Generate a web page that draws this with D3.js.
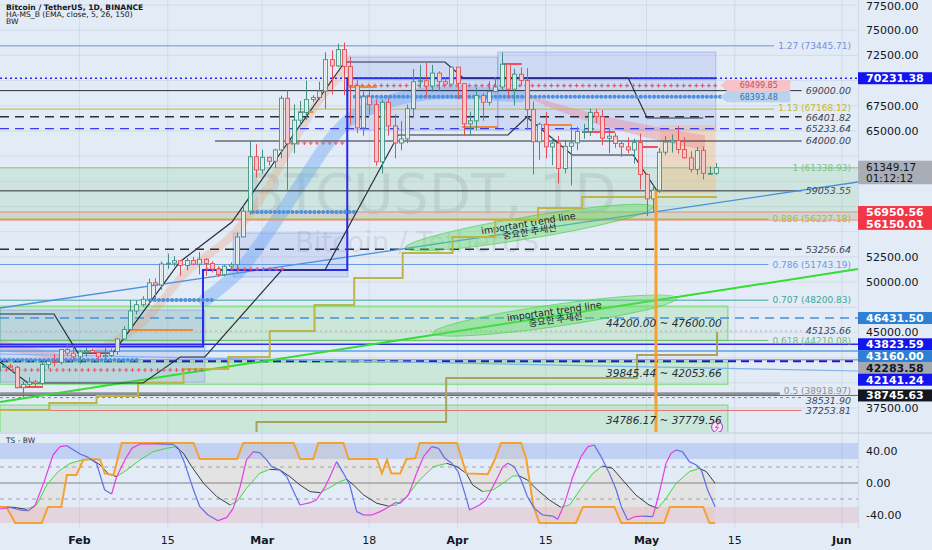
<!DOCTYPE html>
<html>
<head>
<meta charset="utf-8">
<script src="https://cdn.jsdelivr.net/npm/d3@7"></script>
<style>
  body { margin: 0; background: #e2ebf6; }
  svg { display: block; font-family: "DejaVu Sans", sans-serif; }
</style>
</head>
<body>
<svg id="chart" width="932" height="550"></svg>
<script>
// ---------- values ----------
// daily candles: [mm-dd, open, high, low, close]
const candleRows = [
  ['01-19',41278,42134,40297,41618],['01-20',41618,41872,41500,41665],['01-21',41665,41891,41536,41545],
  ['01-22',41545,41689,39431,39507],['01-23',39507,40129,38555,39845],['01-24',39845,40555,39484,40077],
  ['01-25',40077,40289,39550,39933],['01-26',39933,42225,39760,41816],['01-27',41816,42200,41394,42120],
  ['01-28',42120,42842,41620,42031],['01-29',42031,43305,41804,43302],['01-30',43302,43882,42683,42941],
  ['01-31',42941,43745,42276,42580],['02-01',42580,43285,41884,43082],['02-02',43082,43488,42574,43200],
  ['02-03',43200,43380,42880,43011],['02-04',43011,43119,42222,42583],['02-05',42583,43494,42258,42708],
  ['02-06',42708,43399,42574,43098],['02-07',43098,44396,42788,44349],['02-08',44349,45614,44331,45288],
  ['02-09',45288,48200,45242,47132],['02-10',47132,48170,46800,47751],['02-11',47751,48592,47557,48299],
  ['02-12',48299,50334,47710,49917],['02-13',49917,50368,48300,49699],['02-14',49699,52043,49225,51795],
  ['02-15',51795,52816,51314,51880],['02-16',51880,52572,51566,52124],['02-17',52124,52191,50625,51642],
  ['02-18',51642,52377,51163,52137],['02-19',52137,52488,51677,51774],['02-20',51774,52985,50760,52258],
  ['02-21',52258,52371,50625,51849],['02-22',51849,52065,50940,51288],['02-23',51288,51548,50525,50744],
  ['02-24',50744,51698,50585,51568],['02-25',51568,51950,51281,51728],['02-26',51728,54910,50901,54477],
  ['02-27',54477,57588,54451,57037],['02-28',57037,64000,56690,62432],['02-29',62432,63676,60364,61131],
  ['03-01',61131,63115,60777,62387],['03-02',62387,62433,61561,61988],['03-03',61988,63231,61320,63113],
  ['03-04',63113,68499,62300,68245],['03-05',68245,69000,59005,63724],['03-06',63724,67641,62779,66074],
  ['03-07',66074,67980,65551,66823],['03-08',66823,69990,66082,68124],['03-09',68124,68541,67861,68313],
  ['03-10',68313,69887,68094,68955],['03-11',68955,72800,67194,72078],['03-12',72078,73000,68620,71452],
  ['03-13',71452,73650,71334,73072],['03-14',73072,73777,68555,71388],['03-15',71388,72357,65630,69499],
  ['03-16',69499,70043,64780,65300],['03-17',65300,68904,64533,68393],['03-18',68393,68956,66565,67609],
  ['03-19',67609,68124,61555,61937],['03-20',61937,68100,60775,67840],['03-21',67840,68240,64529,65501],
  ['03-22',65501,66649,62260,63796],['03-23',63796,65973,63074,64209],['03-24',64209,67624,63790,67211],
  ['03-25',67211,71150,66385,69880],['03-26',69880,71561,69280,69988],['03-27',69988,71769,68359,69455],
  ['03-28',69455,71552,68903,70744],['03-29',70744,70916,69009,69892],['03-30',69892,70355,69601,69645],
  ['03-31',69645,71377,69624,71333],['04-01',71333,71342,68110,69702],['04-02',69702,69708,64533,65709],
  ['04-03',65709,66914,64493,66000],['04-04',66000,69291,65064,68508],['04-05',68508,68725,66011,67837],
  ['04-06',67837,69918,67518,68896],['04-07',68896,70327,68824,69360],['04-08',69360,72797,69043,71620],
  ['04-09',71620,71758,68210,69146],['04-10',69146,71172,67518,70631],['04-11',70631,71293,69557,70006],
  ['04-12',70006,71227,65086,67116],['04-13',67116,67932,60660,63924],['04-14',63924,65840,62134,65661],
  ['04-15',65661,66867,62274,63419],['04-16',63419,64365,61600,63793],['04-17',63793,64499,59768,61277],
  ['04-18',61277,64117,60803,63470],['04-19',63470,65450,59600,63818],['04-20',63818,65419,63090,64941],
  ['04-21',64941,65695,64223,64941],['04-22',64941,67233,64500,66837],['04-23',66837,67199,65775,66407],
  ['04-24',66407,67075,63589,64276],['04-25',64276,65275,62783,64481],['04-26',64481,64789,63322,63755],
  ['04-27',63755,63923,62424,63419],['04-28',63419,64360,62793,63114],['04-29',63114,64228,61765,63842],
  ['04-30',63842,64734,59191,60673],['05-01',60673,60780,56553,58254],['05-02',58254,59603,56937,59123],
  ['05-03',59123,63320,58848,62889],['05-04',62889,64494,62599,63891],['05-05',63891,64650,62848,64031],
  ['05-06',64031,65494,62746,63161],['05-07',63161,64390,62250,62334],['05-08',62334,62986,60877,61187],
  ['05-09',61187,63404,60648,63049],['05-10',63049,63469,60187,60792],['05-11',60792,61490,60632,60793],
  ['05-12',60793,61818,60632,61349]
];

const headerLines = ['Bitcoin / TetherUS, 1D, BINANCE', 'HA-MS_B (EMA, close, 5, 26, 150)', 'BW'];
const watermark = ['BTCUSDT, 1D', 'Bitcoin / TetherUS'];
const priceTicks = [77500, 75000, 72500, 70000, 67500, 65000, 62500, 60000, 57500, 55000, 52500, 50000, 47500, 45000, 42500, 40000, 37500];
const timeTickDates = ['02-01', '02-15', '03-01', '03-18', '04-01', '04-15', '05-01', '05-15', '06-01'];
const timeTickLabels = ['Feb', '15', 'Mar', '18', 'Apr', '15', 'May', '15', 'Jun'];
const indTicks = [40, 0, -40];

// fibonacci retracement
const fibRatios = ['1.27', '1.13', '1', '0.886', '0.786', '0.707', '0.618', '0.5'];
const fibPrices = [73445.71, 67168.12, 61338.93, 56227.18, 51743.19, 48200.83, 44210.08, 38918.97];

// horizontal levels with italic labels (price, first day)
const levelPrices = [69000.00, 66401.82, 65233.64, 64000.00, 59053.55, 53256.64, 45135.66, 38531.90, 37253.81];
const levelFrom = [-12.62, -12.62, -12.62, 21.5, -12.62, -12.62, -12.62, -12.62, -12.62];

// price-axis tags
const tagPrices = [70231.38, 56950.56, 56150.01, 46431.50, 43823.59, 43160.00, 42283.58, 42141.24, 38745.63];
const lastPrice = 61349.17, countdown = '01:12:12';

// support zones
const zoneLows = [44200.00, 39845.44, 34786.17];
const zoneHighs = [47600.00, 42053.66, 37779.56];
const zoneEnd = 102.9;

// boxes [day0, day1, top, bottom] (days from 2024-02-01)
const blueBoxes = [[-12.62, 19.9, 47225, 40079], [24.4, 42.6, 54870, 50500], [42.6, 66.4, 72339, 65093], [66.4, 101.0, 72835, 65093]];
const orangeBox = [92.1, 101.0, 65589, 58839];

// trend lines and drawings [day, price]
const trendGreen = [[-12.62, 38094], [123.57, 51296]];
const trendBlue = [[-12.62, 47424], [123.57, 59931]];
const trendLight = [[-12.62, 42858], [123.57, 41171]];
const ellipseA = [[51.7, 53380], [91.0, 57449]];
const ellipseB = [[56.1, 44943], [94.8, 48417]];
const trendNote = ['important trend line', '중요한 추세선'];

// indicator lines on price pane
const blackA = [[-12.62,46828],[-4.05,46828],[-0.25,42956],[5.3,42956],[15.9,51991],[24.2,55962],[42.1,71842],[58.0,71842],[60.9,70254],[87.1,70254],[90.1,66284],[99.0,66284]];
const blackB = [[-12.62,42064],[-8.2,39980],[10.1,39980],[16.0,42560],[19.9,42560],[32.1,51197],[38.97,51197],[50.6,64596],[68.0,64596],[71.0,66383],[78.2,62611],[87.9,62611],[91.8,58938]];
const blueStep = [[-12.62,43600],[19.6,51200],[42.5,70231.38],[101.0,70231.38]];
const oliveUpper = [[-12.62,37300],[-4.8,38000],[2.7,38690],[9.3,39980],[16.5,41369],[23.6,42560],[30.2,45141],[37.3,47722],[43.6,50401],[51.3,52884],[59.2,54473],[66.0,56160],[72.8,57350],[79.8,58442],[101.2,58442]];
const oliveLower = [[27.9,35000],[28.1,36108],[58.2,40476],[88.5,42758],[101.2,45042]];
const blueRibbon = [[19.9,48218],[25.5,51197],[30.2,55167],[35.5,60130],[39.8,64100],[43.4,66383],[48.8,67872],[56.1,68765],[62.5,68765],[69.9,68468]];
const pinkRibbon = [[71.0,68468,100],[76.3,67277,350],[82.6,66085,500],[90.6,64894,650],[99.3,63802,750]];
const leftPinkRibbon = [[-12.62,43751,500],[-7.1,43056,400],[-1.5,42460,250],[1.7,42262,60]];
const orangeRibbon = [[3,43200],[10,46000],[17,51000],[24,54500],[29,58500],[34,64000],[38,68000],[42,71000]];
// pivot markers [price, day0, day1]
const plusLines = [[69499.85,42.9,101.7],[41270,-12.6,19.9],[51300,20.2,32.3],[63800,33.7,42.5]];
const circleLines = [[68393.48,43.7,101.7],[48218,11.2,21.2],[42262,-12.6,9.6],[56950,27.5,44.0]];
const pivotTagPrices = [69499.85, 68393.48];
const redSegs = [[67.1,70.2,71643],[79.9,85.0,64894],[89.3,91.8,63405],[-10.2,-5.8,39584]];
const orangeSegs = [[42.6,47.2,69361],[34.7,37.1,66879],[60.7,66.4,65390],[73.6,78.2,65589],[8.3,18.0,45241]];
const orangeVertical = [91.5, 59100];
const flagIcon = [101.2, 35612];

// TS - BW oscillator [day, value]
const fastPts = [[-12.6,-32.5],[-11.0,-30.4],[-9.4,-33.8],[-8.1,-34.6],[-7.1,-28.8],[-5.7,-0.4],[-4.2,35],[-3.1,45.4],[-2.0,46.7],[0.1,36.3],[1.4,32],[2.7,24.6],[4.0,-8.8],[5.1,-13.8],[5.9,7.9],[7.2,28.8],[8.3,43.3],[9.6,48.8],[12.3,48.8],[14.9,48.3],[15.7,43.3],[16.7,24.6],[18.1,-8.8],[19.1,-29.6],[20.4,-40],[22.0,-47.1],[23.4,-42.9],[24.4,-31.7],[25.5,-4.6],[26.5,28.8],[27.6,39.2],[28.6,37.9],[29.7,28.8],[30.5,20.4],[31.8,16.3],[32.9,7.9],[34.0,-10.8],[35.0,-27.5],[36.6,-24.6],[37.6,-21.3],[39.0,-4.6],[40.0,12.1],[40.8,26.7],[41.9,12.1],[42.9,-2.5],[44.0,-35.8],[45.1,-40],[46.4,-40],[47.7,-35.8],[49.0,-30.4],[50.1,-24.6],[50.9,-25.4],[52.2,-15],[53.5,12.1],[54.6,32.9],[55.9,45.4],[57.0,43.3],[58.0,30.8],[59.1,24.6],[60.1,14.2],[61.4,-19.2],[61.9,-33.8],[63.5,-27.5],[64.5,-21.3],[65.9,-0.4],[67.2,20.4],[68.0,24.6],[69.0,20.4],[70.1,3.8],[71.1,-17.1],[72.2,-31.7],[73.5,-40],[75.1,-41.3],[75.9,-45.4],[77.0,-25.4],[78.3,7.9],[79.6,32.9],[80.7,45.4],[81.7,47.5],[82.8,32.9],[84.1,12.1],[85.2,-8.8],[86.0,-29.6],[87.0,-46.3],[88.1,-42.1],[89.4,-41.3],[91.0,-42.1],[92.0,-12.9],[93.1,24.6],[93.9,37.1],[94.7,41.3],[95.7,39.2],[96.8,26.7],[97.9,22.5],[98.7,16.3],[99.7,-8.8],[100.9,-29.6]];
const slowPts = [[-12.6,-29.6],[-10.5,-30.4],[-8.4,-32.9],[-6.8,-27.5],[-5.2,-2.5],[-3.4,14.2],[-1.5,24.6],[0.4,28.8],[1.9,29.6],[3.3,22.5],[4.6,11.3],[5.9,7.9],[7.5,16.3],[9.6,28.8],[11.7,39.2],[13.8,43.3],[15.2,45.4],[16.5,37.1],[17.8,20.4],[19.7,-0.4],[21.8,-17.1],[23.9,-27.5],[25.0,-23.3],[26.5,-6.7],[28.6,12.1],[30.2,17.1],[31.8,16.3],[33.4,7.9],[35.0,-2.5],[36.6,-10.8],[38.2,-12.1],[39.8,-5.4],[41.3,1.7],[42.4,4.6],[43.5,-2.5],[45.1,-15],[47.2,-25.4],[49.0,-28.8],[50.3,-27.5],[51.9,-17.1],[54.0,3.8],[56.2,20.4],[58.3,24.6],[59.9,20.4],[61.4,12.1],[62.4,-2.5],[64.0,-10.8],[65.6,-8.8],[67.2,-0.4],[68.8,8.8],[69.8,8.8],[71.1,3.8],[72.7,-8.8],[74.6,-21.3],[76.4,-30.4],[77.8,-27.5],[79.6,-6.7],[81.5,12.1],[83.0,21.3],[84.6,18.3],[86.2,3.8],[88.3,-15],[90.4,-27.5],[91.8,-31.7],[93.1,-19.2],[94.7,-0.4],[96.8,14.2],[98.4,18.3],[99.5,14.2],[100.9,-0.4]];
const trendPts = [[-12.6,-30],[-11.6,-30],[-10.2,-50],[-6.0,-50],[-5.0,-30],[-2.9,-30],[-2.0,10],[-0.5,10],[0.6,29],[2.5,30],[3.3,29],[4.0,12],[5.4,10],[6.7,50],[18.1,50],[19.1,30],[25.0,30],[26.0,50],[34.0,50],[35.0,30],[37.1,30],[37.9,50],[41.9,50],[42.7,30],[47.2,30],[48.0,12],[48.8,29],[49.5,12],[50.9,12],[51.9,30],[53.3,31],[54.0,50],[59.9,50],[61.4,12],[64.8,11],[65.9,29],[66.9,50],[70.1,50],[70.9,31],[72.0,-27.5],[73.0,-50],[78.8,-50],[79.9,-30],[84.9,-30],[86.0,-50],[92.8,-50],[93.7,-30],[99.0,-30],[100.0,-50],[100.9,-50]];

// ---------- layout & styles ----------
const W = 932, H = 550, paneR = 858, mainB = 432, indT = 434, indB = 528;
const bg = '#e2ebf6';
const fibColors = ['#6f8fe0', '#c2b93a', '#7cc47c', '#a8bf2e', '#6a9ae6', '#3fa69a', '#6fbf6f', '#8e9196'];
const fibNudge = [0, -1.2, 0, 0, 0, 0, 0, -2.6];
const levelColors = ['#2a2e39', '#2a2e39', '#3a3af0', '#2a2e39', '#2a2e39', '#2a2e39', '#e79a9a', '#7d8088', '#e77373'];
const levelDash = ['', '9,6', '9,6', '', '', '9,6', '2,3', '3,3', ''];
const levelNudge = [0, 1.2, 0, 0, 0, 0, 0, 2.6, 0];
const tagStyle = [
  {bg: '#1414ee', fg: '#fff', line: '#2323f0', dash: '2,3', w: 1.5},
  {bg: '#f23645', fg: '#fff', line: '#d9a99e', dash: '', w: 1.5},
  {bg: '#f23645', fg: '#fff', line: '#ee8a8a', dash: '', w: 1},
  {bg: '#2f80d4', fg: '#fff', line: '#4a90d9', dash: '9,6', w: 1.3},
  {bg: '#1414ee', fg: '#fff', line: '#2b2bf0', dash: '', w: 1.5},
  {bg: '#2f80d4', fg: '#fff', line: '#5aa0e6', dash: '', w: 1.5},
  {bg: '#a4a8b0', fg: '#131722', line: '#a0a4ab', dash: '', w: 1.5},
  {bg: '#1414ee', fg: '#fff', line: '#1a1acc', dash: '8,5', w: 1.8},
  {bg: '#131722', fg: '#fff', line: '#4a4d57', dash: '', w: 0.8}
];

const dayOf = s => (Date.UTC(2024, +s.slice(0, 2) - 1, +s.slice(3)) - Date.UTC(2024, 1, 1)) / 864e5;
const x = d3.scaleLinear().domain([-12.62, 123.57]).range([0, paneR]);
const y = d3.scaleLinear().domain([77996, 35118]).range([0, mainB]);
const yi = d3.scaleLinear().domain([62.5, -56.25]).range([433, indB]);
const X0 = x.domain()[0];

const svg = d3.select('#chart');
const defs = svg.append('defs');
defs.append('clipPath').attr('id', 'cm').append('rect').attr('width', paneR).attr('height', mainB);
defs.append('clipPath').attr('id', 'ci').append('rect').attr('y', indT).attr('width', paneR).attr('height', indB - indT);

svg.append('rect').attr('width', W).attr('height', H).attr('fill', bg);

// grid
const grid = svg.append('g').attr('stroke', 'rgba(100,120,150,0.12)');
grid.selectAll('line.v').data(timeTickDates).join('line').attr('class', 'v')
  .attr('x1', d => x(dayOf(d))).attr('x2', d => x(dayOf(d))).attr('y1', 0).attr('y2', indB);
grid.selectAll('line.h').data(priceTicks).join('line').attr('class', 'h')
  .attr('x1', 0).attr('x2', paneR).attr('y1', d => y(d)).attr('y2', d => y(d));

const main = svg.append('g').attr('clip-path', 'url(#cm)');
const gFill = main.append('g'), gWm = main.append('g'), gRib = main.append('g'), gHL = main.append('g'),
      gTr = main.append('g'), gEl = main.append('g'), gSt = main.append('g'), gPv = main.append('g'),
      gCd = main.append('g'), gTop = main.append('g'), gLb = main.append('g');

// fib band fill and the red band
gFill.append('rect').attr('x', 0).attr('width', paneR)
  .attr('y', y(fibPrices[2])).attr('height', y(fibPrices[3]) - y(fibPrices[2]))
  .attr('fill', 'rgba(105,200,110,0.17)');
gFill.append('rect').attr('x', 0).attr('width', paneR)
  .attr('y', y(tagPrices[1])).attr('height', y(tagPrices[2]) - y(tagPrices[1]))
  .attr('fill', 'rgba(235,140,140,0.2)');

// zones
gFill.selectAll('rect.zone').data(zoneLows).join('rect').attr('class', 'zone')
  .attr('x', x(X0)).attr('width', x(zoneEnd) - x(X0))
  .attr('y', (d, i) => y(zoneHighs[i])).attr('height', (d, i) => y(d) - y(zoneHighs[i]))
  .attr('fill', 'rgba(110,215,110,0.2)').attr('stroke', '#8ee08e').attr('stroke-width', 1.5);

gFill.selectAll('rect.box').data(blueBoxes).join('rect').attr('class', 'box')
  .attr('x', d => x(d[0])).attr('width', d => x(d[1]) - x(d[0]))
  .attr('y', d => y(d[2])).attr('height', d => y(d[3]) - y(d[2]))
  .attr('fill', 'rgba(95,115,235,0.15)').attr('stroke', 'rgba(95,115,235,0.35)');
gFill.append('rect')
  .attr('x', x(orangeBox[0])).attr('width', x(orangeBox[1]) - x(orangeBox[0]))
  .attr('y', y(orangeBox[2])).attr('height', y(orangeBox[3]) - y(orangeBox[2]))
  .attr('fill', 'rgba(255,175,90,0.32)');

// watermark
gWm.append('text').attr('x', 432).attr('y', 213).attr('text-anchor', 'middle')
  .attr('font-size', 55).attr('fill', 'rgba(110,120,140,0.16)').text(watermark[0]);
gWm.append('text').attr('x', 417).attr('y', 252).attr('text-anchor', 'middle')
  .attr('font-size', 27.5).attr('fill', 'rgba(110,120,140,0.16)').text(watermark[1]);

// ribbons
const lineDP = d3.line().x(d => x(d[0])).y(d => y(d[1])).curve(d3.curveCatmullRom);
const band = d3.area().x(d => x(d[0])).y0(d => y(d[1] - d[2])).y1(d => y(d[1] + d[2])).curve(d3.curveCatmullRom);
gRib.append('path').attr('d', lineDP(orangeRibbon)).attr('fill', 'none')
  .attr('stroke', 'rgba(240,150,110,0.28)').attr('stroke-width', 8).attr('stroke-linecap', 'round');
gRib.append('path').attr('d', lineDP(blueRibbon)).attr('fill', 'none')
  .attr('stroke', 'rgba(95,160,245,0.38)').attr('stroke-width', 13)
  .attr('stroke-linecap', 'round').attr('stroke-linejoin', 'round');
gRib.append('path').attr('d', band(pinkRibbon)).attr('fill', 'rgba(240,120,135,0.35)');
gRib.append('path').attr('d', band(leftPinkRibbon)).attr('fill', 'rgba(240,120,135,0.3)');

// fib lines + labels
fibPrices.forEach((p, i) => {
  const t = gLb.append('text').attr('x', 851).attr('y', y(p) + fibNudge[i]).attr('dy', '0.35em').attr('text-anchor', 'end')
    .attr('font-size', 9).attr('fill', fibColors[i]).text(`${fibRatios[i]} (${p.toFixed(2)})`);
  const w = t.node().getComputedTextLength();
  gHL.append('line').attr('x1', 0).attr('x2', i === 2 ? paneR : 851 - w - 4)
    .attr('y1', y(p)).attr('y2', y(p))
    .attr('stroke', fibColors[i]).attr('stroke-width', i === 7 ? 3 : (i === 3 ? 1.5 : 1));
});

// level lines + italic labels
levelPrices.forEach((p, i) => {
  const t = gLb.append('text').attr('x', 851).attr('y', y(p) + levelNudge[i]).attr('dy', '0.35em').attr('text-anchor', 'end')
    .attr('font-size', 9.5).attr('font-style', 'italic').attr('fill', '#434651').text(p.toFixed(2));
  const w = t.node().getComputedTextLength();
  gHL.append('line').attr('x1', x(levelFrom[i])).attr('x2', 851 - w - 4)
    .attr('y1', y(p)).attr('y2', y(p))
    .attr('stroke', levelColors[i]).attr('stroke-width', levelDash[i] === '9,6' ? 1.4 : 1)
    .attr('stroke-dasharray', levelDash[i] || null);
});

// tag price lines
tagPrices.forEach((p, i) => {
  gHL.append('line').attr('x1', 0).attr('x2', paneR).attr('y1', y(p)).attr('y2', y(p))
    .attr('stroke', tagStyle[i].line).attr('stroke-width', tagStyle[i].w)
    .attr('stroke-dasharray', tagStyle[i].dash || null);
});

// trend lines
const lin = d3.line().x(d => x(d[0])).y(d => y(d[1]));
gTr.append('path').attr('d', lin(trendLight)).attr('fill', 'none').attr('stroke', '#7fb2ea').attr('stroke-width', 1.2);
gTr.append('path').attr('d', lin(trendBlue)).attr('fill', 'none').attr('stroke', '#4a8fe0').attr('stroke-width', 1.3);
gTr.append('path').attr('d', lin(trendGreen)).attr('fill', 'none').attr('stroke', '#33dd33').attr('stroke-width', 2);

// ellipses with notes
[ellipseA, ellipseB].forEach(([a, b]) => {
  const x1 = x(a[0]), y1 = y(a[1]), x2 = x(b[0]), y2 = y(b[1]);
  const ang = Math.atan2(y2 - y1, x2 - x1) * 180 / Math.PI;
  const g = gEl.append('g').attr('transform', `translate(${(x1 + x2) / 2},${(y1 + y2) / 2}) rotate(${ang})`);
  g.append('ellipse').attr('rx', Math.hypot(x2 - x1, y2 - y1) / 2).attr('ry', 11)
    .attr('fill', 'rgba(95,220,95,0.42)').attr('stroke', 'rgba(70,200,70,0.6)');
  g.append('text').attr('text-anchor', 'middle').attr('y', -1).attr('font-size', 9.5).attr('fill', '#1e222d').text(trendNote[0]);
  g.append('text').attr('text-anchor', 'middle').attr('y', 7.5).attr('font-size', 9.5)
    .attr('font-family', '"Noto Sans CJK KR", sans-serif').attr('fill', '#1e222d').text(trendNote[1]);
});

// step lines
const step = d3.line().x(d => x(d[0])).y(d => y(d[1])).curve(d3.curveStepAfter);
gSt.append('path').attr('d', step(oliveUpper)).attr('fill', 'none').attr('stroke', '#bdb54a').attr('stroke-width', 2);
gSt.append('path').attr('d', step(oliveLower)).attr('fill', 'none').attr('stroke', '#a9a35e').attr('stroke-width', 2);
gSt.append('path').attr('d', step(blueStep)).attr('fill', 'none').attr('stroke', '#2b2bea').attr('stroke-width', 2);
gSt.append('path').attr('d', lin(blackA)).attr('fill', 'none').attr('stroke', '#2a2e39').attr('stroke-width', 1.2);
gSt.append('path').attr('d', lin(blackB)).attr('fill', 'none').attr('stroke', '#2a2e39').attr('stroke-width', 1.2);

// pivot markers
gPv.selectAll('line.circ').data(circleLines).join('line').attr('class', 'circ')
  .attr('x1', d => x(d[1])).attr('x2', d => x(d[2])).attr('y1', d => y(d[0])).attr('y2', d => y(d[0]))
  .attr('stroke', '#4f8fdc').attr('stroke-width', 4).attr('stroke-linecap', 'round').attr('stroke-dasharray', '0.1,4.3');
gPv.selectAll('path.plus').data(plusLines).join('path').attr('class', 'plus')
  .attr('d', d => {
    let s = '';
    for (let k = d[1]; k <= d[2]; k += 1) {
      const px = x(k), py = y(d[0]);
      s += `M${px - 2},${py}H${px + 2}M${px},${py - 2}V${py + 2}`;
    }
    return s;
  })
  .attr('stroke', '#e55a6a').attr('stroke-width', 1.1).attr('fill', 'none');
gPv.selectAll('line.rs').data(redSegs).join('line').attr('class', 'rs')
  .attr('x1', d => x(d[0])).attr('x2', d => x(d[1])).attr('y1', d => y(d[2])).attr('y2', d => y(d[2]))
  .attr('stroke', '#f0505a').attr('stroke-width', 2);
gPv.selectAll('line.os').data(orangeSegs).join('line').attr('class', 'os')
  .attr('x1', d => x(d[0])).attr('x2', d => x(d[1])).attr('y1', d => y(d[2])).attr('y2', d => y(d[2]))
  .attr('stroke', '#ef8a3a').attr('stroke-width', 2);

// candles
const candles = candleRows.map(r => ({day: dayOf(r[0]), o: r[1], h: r[2], l: r[3], c: r[4]}));
const up = d => d.c >= d.o;
gCd.selectAll('line').data(candles).join('line')
  .attr('x1', d => Math.round(x(d.day)) + 0.5).attr('x2', d => Math.round(x(d.day)) + 0.5)
  .attr('y1', d => y(d.h)).attr('y2', d => y(d.l))
  .attr('stroke', d => up(d) ? '#3f9283' : '#e0505a');
gCd.selectAll('rect').data(candles).join('rect')
  .attr('x', d => Math.round(x(d.day)) - 1.5).attr('width', 4)
  .attr('y', d => y(Math.max(d.o, d.c))).attr('height', d => Math.max(1, Math.abs(y(d.o) - y(d.c))))
  .attr('fill', d => up(d) ? 'rgba(236,244,242,0.85)' : '#f6c6c8')
  .attr('stroke', d => up(d) ? '#3f9283' : '#e0505a').attr('stroke-width', 0.9);

// orange vertical + flag
gTop.append('line').attr('x1', x(orangeVertical[0])).attr('x2', x(orangeVertical[0]))
  .attr('y1', y(orangeVertical[1])).attr('y2', mainB).attr('stroke', '#f7a033').attr('stroke-width', 3);
gTop.append('circle').attr('cx', x(flagIcon[0])).attr('cy', y(flagIcon[1])).attr('r', 5.5)
  .attr('fill', '#f6e9f8').attr('stroke', '#c04fcc').attr('stroke-width', 1.2);
gTop.append('path').attr('d', `M${x(flagIcon[0]) + 1.5},${y(flagIcon[1]) - 3.5}l-3,4h3l-3,3.5`)
  .attr('fill', 'none').attr('stroke', '#c04fcc').attr('stroke-width', 1);

// zone labels
gLb.selectAll('text.zl').data(zoneLows).join('text').attr('class', 'zl')
  .attr('x', x(zoneEnd) - 6).attr('y', (d, i) => (y(zoneHighs[i]) + Math.min(y(d), mainB)) / 2 + (i === 2 ? 2 : 0))
  .attr('dy', '0.35em').attr('text-anchor', 'end').attr('font-size', 10.5).attr('font-style', 'italic')
  .attr('fill', '#2a2e39').text((d, i) => `${d.toFixed(2)} ~ ${zoneHighs[i].toFixed(2)}`);

// pivot tags inside pane
const ptStyle = [{bg: '#f6c3c8', fg: '#c2505e'}, {bg: '#b9d3ef', fg: '#3d6fa8'}];
pivotTagPrices.forEach((p, i) => {
  const yc = y(p), x0 = x(101.7), x1 = x0 + 70;
  gLb.append('path').attr('d', `M${x0},${yc}L${x0 + 7},${yc - 5.5}H${x1}V${yc + 5.5}H${x0 + 7}Z`).attr('fill', ptStyle[i].bg);
  gLb.append('text').attr('x', (x0 + 7 + x1) / 2).attr('y', yc).attr('dy', '0.35em').attr('text-anchor', 'middle')
    .attr('font-size', 8).attr('fill', ptStyle[i].fg).text(p.toFixed(2));
});

// ---------- price axis ----------
const ax = svg.append('g');
ax.append('line').attr('x1', paneR + 0.5).attr('x2', paneR + 0.5).attr('y1', 0).attr('y2', indB).attr('stroke', 'rgba(80,90,110,0.12)');

// tag positions with simple collision avoidance
const tagOrder = tagPrices.map((p, i) => ({p, i, yc: y(p)})).sort((a, b) => a.yc - b.yc);
for (let k = 1; k < tagOrder.length; k++) tagOrder[k].yc = Math.max(tagOrder[k].yc, tagOrder[k - 1].yc + 11.8);
const ly = y(lastPrice);
const occupied = tagOrder.map(t => [t.yc - 6, t.yc + 6]).concat([[ly - 7, ly + 16.5]]);
const visibleTicks = priceTicks.filter(p => !occupied.some(([a, b]) => y(p) + 5 > a && y(p) - 5 < b));

ax.selectAll('text.tk').data(visibleTicks).join('text').attr('class', 'tk')
  .attr('x', 866).attr('y', d => Math.max(y(d), 6)).attr('dy', '0.35em').attr('font-size', 11).attr('fill', '#131722')
  .text(d => d.toFixed(2));
tagOrder.forEach(t => {
  ax.append('rect').attr('x', paneR).attr('y', t.yc - 6).attr('width', W - paneR).attr('height', 12)
    .attr('fill', tagStyle[t.i].bg);
  ax.append('text').attr('x', 866).attr('y', t.yc).attr('dy', '0.36em').attr('font-size', 11)
    .attr('font-weight', 'bold').attr('fill', tagStyle[t.i].fg).text(t.p.toFixed(2));
});
ax.append('rect').attr('x', paneR).attr('y', ly - 7).attr('width', W - paneR).attr('height', 23.5).attr('fill', '#a9adb5');
ax.append('text').attr('x', 866).attr('y', ly - 0.5).attr('dy', '0.36em').attr('font-size', 10.5).attr('fill', '#131722').text(lastPrice.toFixed(2));
ax.append('text').attr('x', 866).attr('y', ly + 10.5).attr('dy', '0.36em').attr('font-size', 10.5).attr('fill', '#131722').text(countdown);

// ---------- oscillator pane ----------
svg.append('line').attr('x1', 0).attr('x2', W).attr('y1', 433).attr('y2', 433).attr('stroke', '#c3ccd9');
const ind = svg.append('g').attr('clip-path', 'url(#ci)');
ind.append('rect').attr('x', 0).attr('width', paneR).attr('y', yi(50)).attr('height', yi(30) - yi(50)).attr('fill', 'rgba(90,130,235,0.25)');
ind.append('rect').attr('x', 0).attr('width', paneR).attr('y', yi(-30)).attr('height', yi(-50) - yi(-30)).attr('fill', 'rgba(235,120,140,0.2)');
[20, -20].forEach(v => ind.append('line').attr('x1', 0).attr('x2', paneR).attr('y1', yi(v)).attr('y2', yi(v))
  .attr('stroke', '#9aa3b0').attr('stroke-dasharray', '4,4'));
ind.append('line').attr('x1', 0).attr('x2', paneR).attr('y1', yi(0)).attr('y2', yi(0)).attr('stroke', '#7d828c');

const li = d3.line().x(d => x(d[0])).y(d => yi(d[1]));
// light shading between trend and slow line
ind.append('path').attr('d', li(trendPts) + 'L' + li(slowPts.slice().reverse()).slice(1) + 'Z')
  .attr('fill', 'rgba(245,160,70,0.11)').attr('fill-rule', 'evenodd');
const segs = pts => d3.pairs(pts);
ind.selectAll('path.sl').data(segs(slowPts)).join('path').attr('class', 'sl')
  .attr('d', d => li(d)).attr('fill', 'none').attr('stroke-width', 1)
  .attr('stroke', d => d[1][1] >= d[0][1] ? '#3fd83f' : '#3a3d45');
ind.append('path').attr('d', li(trendPts)).attr('fill', 'none').attr('stroke', '#f5a132').attr('stroke-width', 2);
ind.selectAll('path.fs').data(segs(fastPts)).join('path').attr('class', 'fs')
  .attr('d', d => li(d)).attr('fill', 'none').attr('stroke-width', 1.2)
  .attr('stroke', d => d[1][1] >= d[0][1] ? '#e23fe2' : '#5b6ee8');

svg.append('text').attr('x', 6).attr('y', 443).attr('font-size', 7.5).attr('fill', '#2a2e39').text('TS - BW');
svg.selectAll('text.it').data(indTicks).join('text').attr('class', 'it')
  .attr('x', 866).attr('y', d => yi(d)).attr('dy', '0.35em').attr('font-size', 11).attr('fill', '#131722')
  .text(d => d.toFixed(2));

// ---------- time axis ----------
svg.selectAll('text.tt').data(timeTickDates).join('text').attr('class', 'tt')
  .attr('x', d => x(dayOf(d))).attr('y', 544).attr('text-anchor', 'middle').attr('font-size', 11)
  .attr('font-weight', (d, i) => /\d/.test(timeTickLabels[i]) ? 'normal' : 'bold')
  .attr('fill', '#131722').text((d, i) => timeTickLabels[i]);

// ---------- header ----------
svg.selectAll('text.hd').data(headerLines).join('text').attr('class', 'hd')
  .attr('x', 6).attr('y', (d, i) => 9.5 + i * 7.2).attr('font-size', 7.6)
  .attr('font-weight', (d, i) => i === 0 ? 'bold' : 'normal').attr('fill', '#131722').text(d => d);
</script>
</body>
</html>
